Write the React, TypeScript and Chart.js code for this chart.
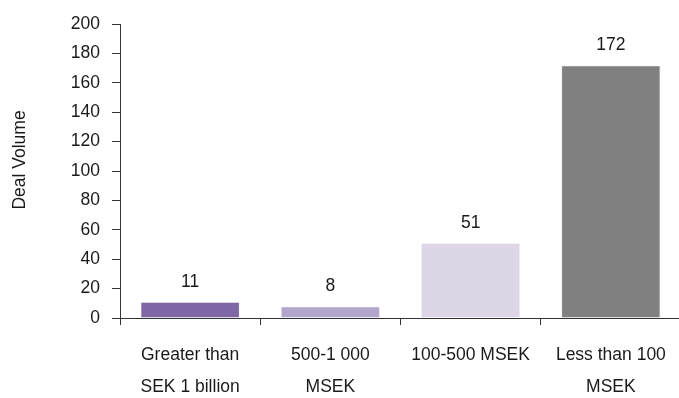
import React, { useEffect, useRef } from "react";
import { Chart, registerables } from "chart.js";

Chart.register(...registerables);

// Deal size buckets and number of deals in each
const categories: string[][] = [
  ["Greater than", "SEK 1 billion"],
  ["500-1 000", "MSEK"],
  ["100-500 MSEK"],
  ["Less than 100", "MSEK"],
];
const dealVolume: number[] = [11, 8, 51, 172];
const barColors: string[] = ["#7F66A4", "#B2A7CB", "#DCD6E6", "#808080"];
const yMin = 0;
const yMax = 200;
const yStep = 20;
const yTitle = "Deal Volume";

const FONT_FAMILY = '"Liberation Sans", Arial, sans-serif';
const FONT_SIZE = 17.5;
const TEXT_COLOR = "#1a1a1a";
const AXIS_COLOR = "#333333";

const valueLabels = {
  id: "valueLabels",
  afterDatasetsDraw(chart: any) {
    const ctx = chart.ctx;
    const meta = chart.getDatasetMeta(0);
    ctx.save();
    ctx.font = `${FONT_SIZE}px ${FONT_FAMILY}`;
    ctx.fillStyle = TEXT_COLOR;
    ctx.textAlign = "center";
    ctx.textBaseline = "middle";
    meta.data.forEach((bar: any, i: number) => {
      ctx.fillText(String(dealVolume[i]), bar.x, bar.y - 20);
    });
    ctx.restore();
  },
};

const sideTitle = {
  id: "sideTitle",
  afterDraw(chart: any) {
    const ctx = chart.ctx;
    ctx.save();
    ctx.font = `${FONT_SIZE}px ${FONT_FAMILY}`;
    ctx.fillStyle = TEXT_COLOR;
    ctx.textAlign = "center";
    ctx.textBaseline = "middle";
    ctx.translate(20, 160);
    ctx.rotate(-Math.PI / 2);
    ctx.fillText(yTitle, 0, 0);
    ctx.restore();
  },
};

export default function App() {
  const canvasRef = useRef<HTMLCanvasElement | null>(null);

  useEffect(() => {
    if (!canvasRef.current) return;
    const chart = new Chart(canvasRef.current, {
      type: "bar",
      data: {
        labels: categories,
        datasets: [
          {
            data: dealVolume,
            backgroundColor: barColors,
            borderColor: "#f4f4f4",
            borderWidth: 1,
            barPercentage: 0.71,
            categoryPercentage: 1,
          },
        ],
      },
      options: {
        responsive: false,
        animation: false,
        devicePixelRatio: 1,
        layout: { padding: { top: 24, left: 0, right: 0, bottom: 0 } },
        plugins: {
          legend: { display: false },
          tooltip: { enabled: false },
        },
        scales: {
          x: {
            afterFit: (scale: any) => {
              scale.height = 80;
              scale.paddingRight = 0;
              scale.paddingLeft = 0;
            },
            border: { display: true, color: AXIS_COLOR, width: 1 },
            grid: {
              offset: true,
              drawOnChartArea: false,
              drawTicks: true,
              tickLength: 7,
              color: AXIS_COLOR,
            },
            ticks: {
              color: TEXT_COLOR,
              padding: 14,
              maxRotation: 0,
              autoSkip: false,
              font: { family: FONT_FAMILY, size: FONT_SIZE, lineHeight: "32px" },
            },
          },
          y: {
            min: yMin,
            max: yMax,
            afterFit: (scale: any) => {
              scale.width = 120;
            },
            border: { display: true, color: AXIS_COLOR, width: 1 },
            grid: {
              drawOnChartArea: false,
              drawTicks: true,
              tickLength: 8,
              color: AXIS_COLOR,
            },
            ticks: {
              stepSize: yStep,
              color: TEXT_COLOR,
              padding: 12,
              font: { family: FONT_FAMILY, size: FONT_SIZE },
            },
          },
        },
      },
      plugins: [valueLabels, sideTitle],
    });
    return () => chart.destroy();
  }, []);

  return (
    <div
      style={{
        position: "fixed",
        left: 0,
        top: 0,
        width: 679,
        height: 398,
        overflow: "hidden",
        background: "#ffffff",
      }}
    >
      <canvas ref={canvasRef} width={681} height={398} style={{ display: "block" }} />
    </div>
  );
}
